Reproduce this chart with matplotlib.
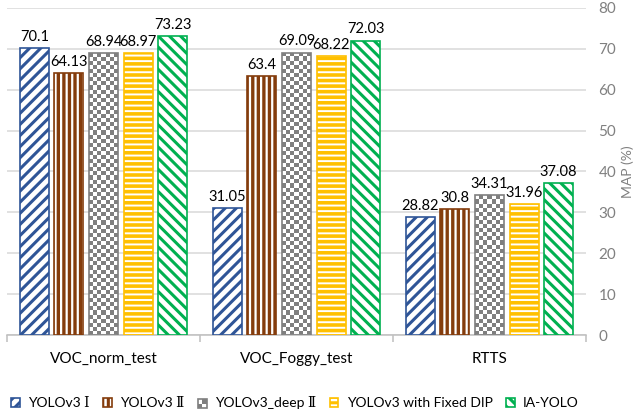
import numpy as np
import matplotlib
matplotlib.use('Agg')
from matplotlib import pyplot as plt
from matplotlib.patches import Rectangle
from matplotlib.legend_handler import HandlerBase

plt.rcParams['font.family'] = ['Lato', 'DejaVu Serif']
plt.rcParams['hatch.linewidth'] = 2.2

categories = ['VOC_norm_test', 'VOC_Foggy_test', 'RTTS']
methods = ['YOLOv3 Ⅰ', 'YOLOv3 Ⅱ', 'YOLOv3_deep Ⅱ', 'YOLOv3 with Fixed DIP', 'IA-YOLO']
yolov3_1 = [70.1, 31.05, 28.82]
yolov3_2 = [64.13, 63.4, 30.8]
yolov3_deep = [68.94, 69.09, 34.31]
yolov3_dip = [68.97, 68.22, 31.96]
ia_yolo = [73.23, 72.03, 37.08]
series = [yolov3_1, yolov3_2, yolov3_deep, yolov3_dip, ia_yolo]

colors = ['#2F5597', '#843C0C', '#7F7F7F', '#FFC000', '#00B050']
hatches = ['///', '|||', None, '---', '\\\\\\']
hatch_lw = [2.2, 2.4, 0, 2.6, 2.2]

fig = plt.figure(figsize=(6.36, 4.15), dpi=100)
ax = fig.add_axes([7 / 636, 80 / 415, 579 / 636, 327 / 415])

x = np.arange(len(categories))
width = 0.150
step = 0.179


def checker(ax, bar, color):
    # gray/white checkerboard clipped to the bar
    x0, w, h = bar.get_x(), bar.get_width(), bar.get_height()
    ncol, nrow = 7, int(np.ceil(h))
    grid = np.add.outer(np.arange(nrow), np.arange(ncol)) % 2
    img = np.ones((nrow, ncol, 3))
    img[grid == 0] = matplotlib.colors.to_rgb(color)
    im = ax.imshow(img, extent=(x0, x0 + w, 0, nrow), origin='lower',
                   interpolation='nearest', aspect='auto', zorder=2)
    im.set_clip_path(bar)


handles = []
for i, (vals, c, h) in enumerate(zip(series, colors, hatches)):
    pos = x + (i - 2) * step
    bars = ax.bar(pos, vals, width, facecolor='white', edgecolor=c,
                  hatch=h, linewidth=1.2, zorder=3)
    for b in bars:
        if h is not None and hasattr(b, 'set_hatch_linewidth'):
            b.set_hatch_linewidth(hatch_lw[i])
        if h is None:
            b.set_facecolor('none')
            checker(ax, b, c)
    ax.bar_label(bars, fmt='{:g}', padding=3, fontsize=10.5, color='black')
    handles.append(bars[0])


class CheckerHandler(HandlerBase):
    def create_artists(self, legend, orig, xd, yd, w, h, fontsize, trans):
        arts = []
        for r in range(2):
            for k in range(2):
                fc = '#7F7F7F' if (r + k) % 2 == 0 else 'white'
                arts.append(Rectangle((xd + k * w / 2, yd + r * h / 2), w / 2, h / 2,
                                      facecolor=fc, edgecolor='none', transform=trans))
        arts.append(Rectangle((xd, yd), w, h, facecolor='none', edgecolor='#7F7F7F',
                              linewidth=1.2, transform=trans))
        return arts


ax.set_xlim(-0.5, 2.5)
ax.set_ylim(0, 80)
ax.set_yticks(np.arange(0, 81, 10))
ax.yaxis.tick_right()
ax.yaxis.set_label_position('right')
ax.tick_params(axis='y', length=0, pad=9, labelsize=11, labelcolor='#808080')
ax.set_ylabel('MAP (%)', fontsize=10, color='#808080', labelpad=4)
ax.grid(axis='y', color='#D9D9D9', linewidth=1.1, zorder=0)
ax.set_axisbelow(True)

ax.set_xticks(x)
ax.set_xticklabels(categories, fontsize=11)
ax.set_xticks([-0.5, 0.5, 1.5, 2.5], minor=True)
ax.tick_params(axis='x', which='major', length=0, pad=12)
ax.tick_params(axis='x', which='minor', length=5, width=1.1, color='#BFBFBF')

for s in ['top', 'left', 'right']:
    ax.spines[s].set_visible(False)
ax.spines['bottom'].set_color('#BFBFBF')
ax.spines['bottom'].set_linewidth(1.1)

leg = fig.legend(handles, methods, loc='center', bbox_to_anchor=(0.464, 0.029),
                 ncol=5, frameon=False, fontsize=10, handlelength=0.6,
                 handleheight=0.6, handletextpad=0.6, columnspacing=1.0,
                 handler_map={handles[2]: CheckerHandler()})

fig.savefig('out.png', dpi=100)
